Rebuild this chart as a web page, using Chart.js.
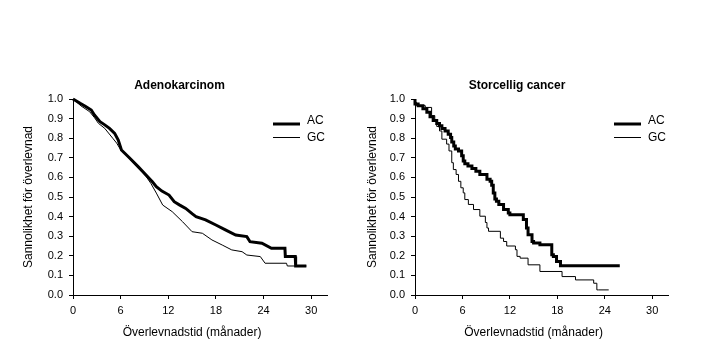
<!DOCTYPE html>
<html>
<head>
<meta charset="utf-8">
<script src="https://cdn.jsdelivr.net/npm/chart.js@4/dist/chart.umd.min.js"></script>
<style>
  html, body { margin:0; padding:0; background:#fff; }
  #wrap { position:relative; width:714px; height:357px; overflow:hidden; }
  .c { position:absolute; top:0; }
</style>
</head>
<body>
<div id="wrap">
  <div class="c" style="left:0;width:359px;height:357px;"><canvas id="c1"></canvas></div>
  <div class="c" style="left:340px;width:354px;height:357px;"><canvas id="c2"></canvas></div>
</div>
<script>
// ---- Data (months, survival probability) ----
const seriesLabels = ['AC', 'GC'];
const chartTitles = ['Adenokarcinom', 'Storcellig cancer'];
const yAxisTitle = 'Sannolikhet för överlevnad';
const xAxisTitle = 'Överlevnadstid (månader)';
const xTicks = [0, 6, 12, 18, 24, 30];
const yTicks = [0.0, 0.1, 0.2, 0.3, 0.4, 0.5, 0.6, 0.7, 0.8, 0.9, 1.0];

const adenoAC_t = [0, 0.9, 1.6, 2.3, 2.7, 3.4, 4.0, 4.6, 5.25, 5.7, 6.1, 7.1, 8.2, 9.2, 10.0, 10.5, 11.2, 12.1, 12.75, 13.4, 14.2, 15.0, 15.5, 16.7, 18, 19.2, 20.5, 21.9, 22.3, 23.8, 25, 26.7, 26.75, 28, 28.05, 29.4];
const adenoAC_s = [1.0, 0.978, 0.962, 0.944, 0.918, 0.884, 0.868, 0.85, 0.825, 0.791, 0.74, 0.70, 0.655, 0.612, 0.578, 0.553, 0.530, 0.51, 0.476, 0.460, 0.442, 0.415, 0.40, 0.383, 0.357, 0.332, 0.306, 0.298, 0.272, 0.264, 0.238, 0.238, 0.196, 0.196, 0.148, 0.148];

const adenoGC_t = [0, 1, 2.1, 2.7, 3.2, 4, 5, 5.5, 5.9, 7, 8.2, 9.2, 9.8, 10.5, 11.3, 12.5, 13.8, 15, 16.3, 17.5, 18.8, 20, 21.3, 21.9, 23.6, 24.2, 26.9, 27, 29.4];
const adenoGC_s = [1.0, 0.965, 0.935, 0.905, 0.876, 0.85, 0.80, 0.775, 0.748, 0.70, 0.65, 0.605, 0.57, 0.52, 0.459, 0.425, 0.374, 0.323, 0.315, 0.281, 0.255, 0.23, 0.221, 0.204, 0.196, 0.162, 0.162, 0.148, 0.148];

const storAC_t = [0, 0.4, 1.0, 1.5, 1.9, 2.3, 2.75, 3.1, 3.4, 3.8, 4.2, 4.5, 4.65, 4.9, 5.1, 5.5, 5.9, 6.1, 6.3, 6.7, 7.2, 7.7, 8.2, 9.1, 9.5, 9.7, 9.9, 10.1, 10.3, 10.6, 11.2, 11.8, 12, 13.7, 14.1, 14.3, 14.8, 15, 15.8, 17.3, 17.5, 17.9, 18.4, 18.8, 25.9];
const storAC_s = [1.0, 0.974, 0.966, 0.95, 0.932, 0.91, 0.89, 0.875, 0.863, 0.85, 0.837, 0.82, 0.803, 0.78, 0.76, 0.745, 0.735, 0.71, 0.684, 0.67, 0.658, 0.645, 0.632, 0.615, 0.59, 0.58, 0.56, 0.52, 0.49, 0.478, 0.462, 0.436, 0.419, 0.41, 0.385, 0.342, 0.308, 0.273, 0.265, 0.256, 0.205, 0.197, 0.171, 0.149, 0.149];

const storGC_t = [0, 0.2, 1.3, 2.1, 2.5, 2.75, 3.1, 3.4, 4, 4.3, 4.65, 4.85, 5.2, 5.5, 5.8, 6.1, 6.3, 6.75, 7.4, 8.2, 8.9, 9.1, 9.3, 10.8, 11.2, 11.6, 12.7, 12.9, 13.3, 14.3, 15.8, 18.6, 20.3, 22.6, 23, 23.2, 24.5];
const storGC_s = [1.0, 0.983, 0.966, 0.957, 0.915, 0.89, 0.86, 0.837, 0.795, 0.77, 0.735, 0.675, 0.64, 0.615, 0.58, 0.547, 0.521, 0.487, 0.462, 0.436, 0.402, 0.37, 0.342, 0.325, 0.29, 0.273, 0.25, 0.231, 0.197, 0.188, 0.154, 0.12, 0.094, 0.077, 0.06, 0.026, 0.026];

const FONT = "'Liberation Sans', Arial, sans-serif";
const pts = (t, s) => t.map((v, i) => ({x: v, y: s[i]}));

const annot = {
  id: 'annot',
  afterDraw(chart) {
    const {ctx, chartArea: a, scales: {x}} = chart;
    const title = chart.options.plugins.annot.title;
    ctx.save();
    ctx.fillStyle = '#000';
    ctx.textBaseline = 'middle';
    ctx.textAlign = 'center';
    ctx.font = 'bold 12px ' + FONT;
    ctx.fillText(title, chart.width / 2, a.top - 13);
    ctx.font = '12px ' + FONT;
    ctx.fillText(xAxisTitle, x.getPixelForValue(15), a.bottom + 38);
    chart.data.datasets.forEach((ds, i) => {
      const ly = a.top + 25 + i * 13.5;
      ctx.strokeStyle = '#000';
      ctx.lineWidth = ds.borderWidth;
      ctx.beginPath();
      ctx.moveTo(a.right - 54, ly);
      ctx.lineTo(a.right - 27, ly);
      ctx.stroke();
      ctx.textAlign = 'left';
      ctx.fillText(ds.label, a.right - 20, ly - (i === 0 ? 3 : -0.5));
    });
    ctx.restore();
  }
};

function makeChart(id, title, acData, gcData, stepped, yWidth, yTitlePad, rightPad) {
  const ds = (label, data, w) => ({
    label, data, borderColor: '#000', backgroundColor: '#000', borderWidth: w,
    pointRadius: 0, tension: 0, stepped: stepped, clip: false, fill: false
  });
  return new Chart(document.getElementById(id), {
    type: 'line',
    data: { datasets: [ds(seriesLabels[0], acData, 3), ds(seriesLabels[1], gcData, 1)] },
    options: {
      responsive: true, maintainAspectRatio: false, animation: false,
      layout: { padding: { left: 0, right: rightPad, top: 99, bottom: 0 } },
      plugins: {
        legend: { display: false }, tooltip: { enabled: false },
        title: { display: false },
        annot: { title: title }
      },
      scales: {
        x: {
          type: 'linear', min: 0, max: 32,
          afterFit: s => { s.height = 62; },
          afterBuildTicks: s => { s.ticks = xTicks.map(v => ({value: v})); },
          ticks: { color: '#000', font: { family: FONT, size: 11 }, padding: 5, maxRotation: 0, includeBounds: false },
          grid: { drawOnChartArea: false, drawTicks: true, tickLength: 4, color: '#000' },
          border: { display: true, color: '#000', width: 1 }
        },
        y: {
          type: 'linear', min: 0, max: 1,
          afterFit: s => { s.width = yWidth; },
          afterBuildTicks: s => { s.ticks = yTicks.map(v => ({value: v})); },
          ticks: { color: '#000', font: { family: FONT, size: 11 }, padding: 6, callback: v => Number(v).toFixed(1) },
          grid: { drawOnChartArea: false, drawTicks: true, tickLength: 4, color: '#000' },
          border: { display: true, color: '#000', width: 1 },
          title: { display: true, text: yAxisTitle, color: '#000', font: { family: FONT, size: 12 }, padding: { top: yTitlePad, bottom: 0 } }
        }
      }
    },
    plugins: [annot]
  });
}

makeChart('c1', chartTitles[0], pts(adenoAC_t, adenoAC_s), pts(adenoGC_t, adenoGC_s), false, 73, 21, 32);
makeChart('c2', chartTitles[1], pts(storAC_t, storAC_s), pts(storGC_t, storGC_s), 'after', 75, 25, 26);
</script>
</body>
</html>
